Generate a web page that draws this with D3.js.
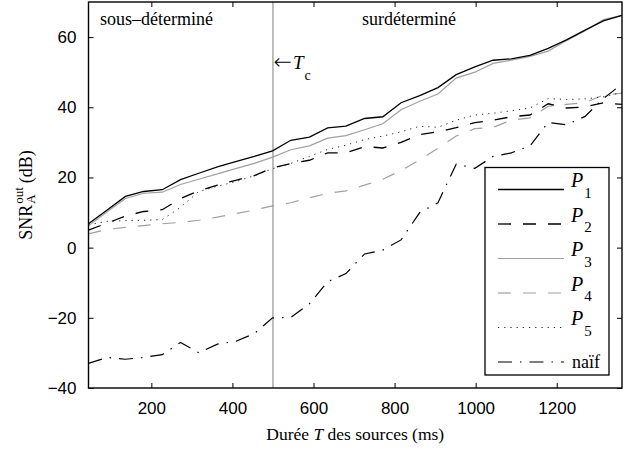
<!DOCTYPE html>
<html>
<head>
<meta charset="utf-8">
<script src="https://cdn.jsdelivr.net/npm/d3@7"></script>
<style>
  body { margin: 0; background: #fff; }
  .tick text { font-family: "Liberation Sans", Arial, sans-serif; font-size: 17px; fill: #000; }
</style>
</head>
<body>
<div id="chart"></div>
<script>
// durée T des sources (ms)
const durations = [45, 91, 136, 181, 227, 272, 317, 363, 408, 454, 499, 544, 590, 635, 680,
  726, 771, 816, 862, 907, 952, 998, 1043, 1088, 1134, 1179, 1224, 1270, 1315, 1361];

// SNR out (dB)
const p1 = [6.8, 10.7, 14.6, 16, 16.5, 19.4, 21.2, 23, 24.5, 26, 27.6, 30.6, 31.5, 34.1, 34.6,
  36.8, 37.3, 41.3, 43.3, 45.6, 49.3, 51.5, 53.4, 53.8, 54.8, 56.8, 59.2, 62, 64.6, 66.2];
const p2 = [5, 7, 9, 10.3, 10.8, 14, 16.2, 17.8, 19.2, 20.5, 22.7, 24, 24.9, 27, 27,
  28.8, 28.4, 30, 32.2, 33, 34.2, 35.6, 36.3, 37.3, 37.8, 41, 39.8, 40.1, 41.3, 40.8];
const p3 = [6.2, 10.2, 14, 15.5, 15.8, 18, 19.5, 21, 22.5, 24, 25.8, 27.9, 29, 31.2, 31.9,
  33.6, 35.3, 39.3, 41.7, 43.8, 48.3, 50, 52.5, 53.4, 54.5, 56, 59, 61.8, 65, 66.2];
const p4 = [3.9, 5.2, 5.8, 6.3, 6.8, 7.2, 7.8, 8.7, 9.7, 10.7, 11.9, 12.8, 14.2, 15.5, 16.2,
  17.8, 19.5, 22, 25, 28.3, 31.8, 33.9, 34.3, 36.3, 37, 40.3, 40.8, 41.3, 43.5, 44];
const p5 = [6.5, 7.5, 7.7, 7.8, 8, 11.5, 16, 17.5, 18.8, 20.5, 22.5, 24, 26, 28, 29.2,
  30.8, 31.8, 33, 34.6, 34.3, 36.3, 37.8, 38.3, 39, 39.8, 42.5, 42.2, 42.4, 43, 44.2];
const naif = [-33, -31.3, -31.8, -31.3, -30.5, -27, -30, -27.5, -26.7, -24.5, -20, -19.9, -16, -9.7, -7.4,
  -1.8, -0.7, 2.2, 10, 12.8, 23.8, 22.6, 26, 27, 29, 35.7, 35, 37.4, 42.5, 46.6];

const xTicks = [200, 400, 600, 800, 1000, 1200];
const yTicks = [-40, -20, 0, 20, 40, 60];
const tc = 500;

const width = 637, height = 450;
const plotLeft = 88.5, plotRight = 622, plotTop = 2, plotBottom = 388;
const serif = "'Liberation Serif', 'Times New Roman', Times, serif";

const svg = d3.select("#chart").append("svg")
  .attr("width", width)
  .attr("height", height);

const x = d3.scaleLinear().domain([45, 1361]).range([plotLeft, plotRight]);
const y = d3.scaleLinear().domain([-40, 70]).range([plotBottom, plotTop]);

// axes (ticks pointing inside, mirrored on top / right)
svg.append("g").attr("transform", `translate(0,${plotBottom})`)
  .call(d3.axisBottom(x).tickValues(xTicks).tickSizeInner(-5).tickSizeOuter(0).tickPadding(14)
    .tickFormat(d => String(d)));
svg.append("g").attr("transform", `translate(${plotLeft},0)`)
  .call(d3.axisLeft(y).tickValues(yTicks).tickSizeInner(-5).tickSizeOuter(0).tickPadding(12)
    .tickFormat(d => d < 0 ? "\u2212" + Math.abs(d) : String(d)));
svg.append("g").attr("transform", `translate(0,${plotTop})`)
  .call(d3.axisTop(x).tickValues(xTicks).tickSizeInner(-5).tickSizeOuter(0).tickFormat(""));
svg.append("g").attr("transform", `translate(${plotRight},0)`)
  .call(d3.axisRight(y).tickValues(yTicks).tickSizeInner(-5).tickSizeOuter(0).tickFormat(""));
svg.selectAll(".domain").remove();
svg.selectAll(".tick line").attr("stroke", "#000");

// Tc line
svg.append("line")
  .attr("x1", x(tc)).attr("x2", x(tc))
  .attr("y1", plotTop).attr("y2", plotBottom)
  .attr("stroke", "#888").attr("stroke-width", 1.1);

const series = [
  {name: "4", values: p4, color: "#a0a0a0", dash: "13,12", w: 1.2},
  {name: "5", values: p5, color: "#222", dash: "1.2,5", w: 1},
  {name: "naif", values: naif, color: "#000", dash: "14,8,1.5,8", w: 1.2},
  {name: "2", values: p2, color: "#000", dash: "13,12", w: 1.3},
  {name: "3", values: p3, color: "#a0a0a0", dash: null, w: 1.2},
  {name: "1", values: p1, color: "#000", dash: null, w: 1.3}
];

const line = d3.line()
  .x((d, i) => x(durations[i]))
  .y(d => y(d));

svg.selectAll(".series")
  .data(series)
  .enter()
  .append("path")
  .attr("class", "series")
  .attr("fill", "none")
  .attr("stroke", d => d.color)
  .attr("stroke-width", d => d.w)
  .attr("stroke-dasharray", d => d.dash)
  .attr("d", d => line(d.values));

// frame
svg.append("rect")
  .attr("x", plotLeft).attr("y", plotTop)
  .attr("width", plotRight - plotLeft).attr("height", plotBottom - plotTop)
  .attr("fill", "none").attr("stroke", "#000").attr("stroke-width", 1.4);

// region labels
svg.append("text").attr("font-family", serif)
  .attr("x", 100).attr("y", 25).attr("font-size", 18)
  .text("sous\u2013déterminé");
svg.append("text").attr("font-family", serif)
  .attr("x", 362).attr("y", 25).attr("font-size", 18)
  .text("surdéterminé");

// Tc label
const tcLabel = svg.append("text").attr("font-family", serif)
  .attr("x", x(tc) + 0.5).attr("y", 69).attr("font-size", 19);
tcLabel.append("tspan").attr("font-size", 22).attr("font-family", "'DejaVu Sans', sans-serif")
  .attr("font-weight", 300).text("\u2190");
tcLabel.append("tspan").attr("font-style", "italic").attr("dx", 1).text("T");
tcLabel.append("tspan").attr("font-size", 14).attr("dy", 11).attr("dx", 1).text("c");

// x label
const xl = svg.append("text").attr("font-family", serif)
  .attr("x", (plotLeft + plotRight) / 2).attr("y", 440)
  .attr("text-anchor", "middle").attr("font-size", 17.5);
xl.append("tspan").text("Durée ");
xl.append("tspan").attr("font-style", "italic").text("T");
xl.append("tspan").text(" des sources (ms)");

// y label : SNR_A^out (dB)
const yl = svg.append("g").attr("transform", "translate(32,195) rotate(-90)")
  .attr("font-family", serif);
const snr = yl.append("text").attr("font-size", 18).text("SNR");
const wSnr = snr.node().getComputedTextLength();
const sup = yl.append("text").attr("font-size", 13)
  .attr("x", wSnr + 1).attr("y", -9).text("out");
yl.append("text").attr("font-size", 13)
  .attr("x", wSnr + 1).attr("y", 3).text("A");
const wSup = sup.node().getComputedTextLength();
const dB = yl.append("text").attr("font-size", 18)
  .attr("x", wSnr + wSup + 5).text("(dB)");
const total = wSnr + wSup + 5 + dB.node().getComputedTextLength();
yl.selectAll("text").attr("transform", `translate(${-total / 2},0)`);

// legend
const legendNames = ["1", "2", "3", "4", "5", "naif"];
const lg = svg.append("g").attr("font-family", serif);
lg.append("rect")
  .attr("x", 485).attr("y", 167.5).attr("width", 124).attr("height", 207.5)
  .attr("fill", "#fff").attr("stroke", "#000").attr("stroke-width", 1.3);
legendNames.forEach((n, i) => {
  const s = series.find(d => d.name === n);
  const ly = 189.5 + i * 34.5;
  lg.append("line")
    .attr("x1", 498).attr("x2", 564).attr("y1", ly).attr("y2", ly)
    .attr("stroke", s.color).attr("stroke-width", s.w)
    .attr("stroke-dasharray", s.dash);
  if (n === "naif") {
    lg.append("text").attr("font-size", 18)
      .attr("x", 572).attr("y", ly + 6).text("naïf");
  } else {
    const t = lg.append("text").attr("font-size", 20)
      .attr("x", 571).attr("y", ly - 2.5);
    t.append("tspan").attr("font-style", "italic").text("P");
    t.append("tspan").attr("font-size", 15).attr("dx", 1).attr("dy", 10.5).text(n);
  }
});
</script>
</body>
</html>
